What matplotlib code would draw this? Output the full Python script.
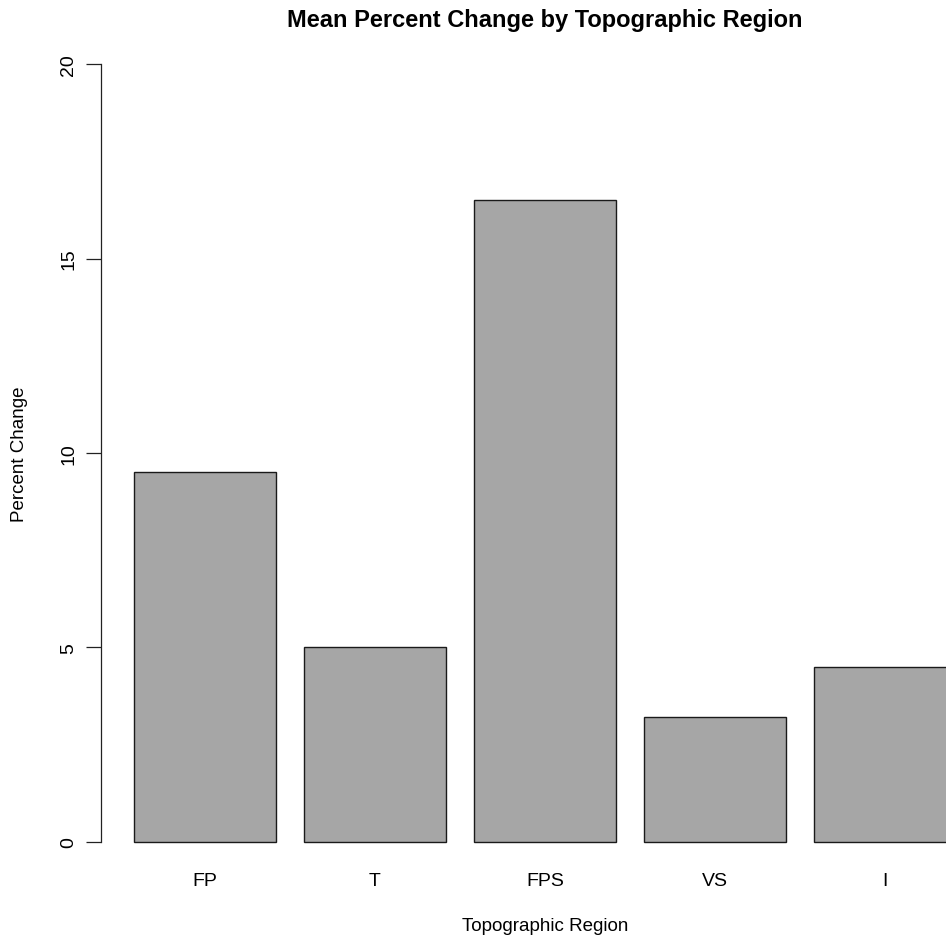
import matplotlib
matplotlib.use("Agg")
import matplotlib.pyplot as plt
import numpy as np

# Data
regions = ["FP", "T", "FPS", "VS", "I"]
mean_change = [9.5, 5.0, 16.5, 3.2, 4.5]
y_ticks = [0, 5, 10, 15, 20]

plt.rcParams["font.family"] = ["Liberation Sans", "DejaVu Sans"]

fig = plt.figure(figsize=(9.46, 9.37), dpi=100)
# plot region runs past the right edge, like the cropped original
ax = fig.add_axes([101 / 946, 1 - 874 / 937, 888 / 946, 840 / 937])

# R barplot layout: width 1, space 0.2
centers = 0.2 + 1.2 * np.arange(len(regions)) + 0.5
ax.bar(centers, mean_change, width=1.0, color="#a6a6a6", edgecolor="#1a1a1a", linewidth=1.0)

ax.set_xlim(-0.032, 6.232)
ax.set_ylim(-0.8, 20.8)

for side in ["top", "right", "bottom"]:
    ax.spines[side].set_visible(False)
ax.spines["left"].set_bounds(0, 20)
ax.spines["left"].set_linewidth(0.9)
ax.spines["left"].set_color("#222222")

ax.set_yticks(y_ticks)
ax.set_yticklabels([str(t) for t in y_ticks], rotation=90, va="center")
ax.tick_params(axis="y", length=11, width=0.9, color="#222222", pad=6, labelsize=14)

ax.set_xticks(centers)
ax.set_xticklabels(regions)
ax.tick_params(axis="x", length=0, pad=-0.5, labelsize=14)

ax.set_title("Mean Percent Change by Topographic Region", fontsize=17, fontweight="bold",
             y=1 + 13 / 840, pad=0, va="center")
ax.set_xlabel("Topographic Region", fontsize=13.5, va="center")
ax.xaxis.set_label_coords(444 / 888, -(927 - 874) / 840)
ax.set_ylabel("Percent Change", fontsize=13.5, va="center")
ax.yaxis.set_label_coords(-(101 - 20) / 888, 0.5)

fig.savefig("out.png", dpi=100)
